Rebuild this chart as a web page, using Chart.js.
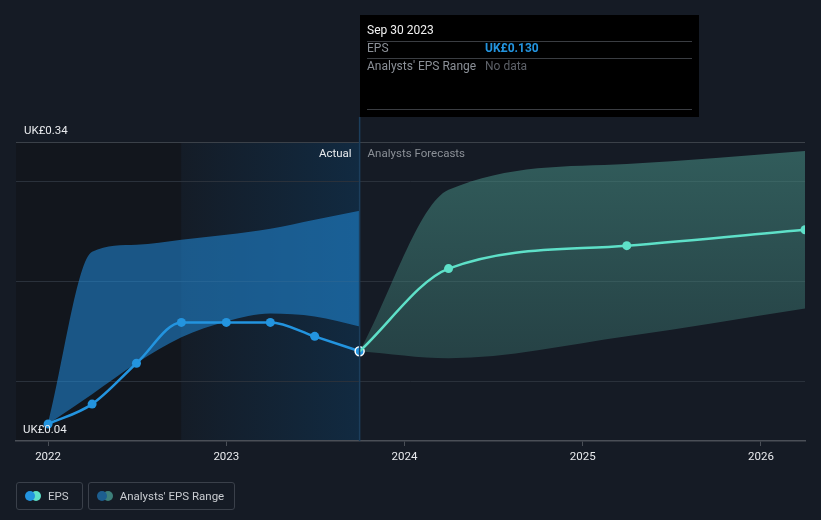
<!DOCTYPE html>
<html>
<head>
<meta charset="utf-8">
<script src="https://cdn.jsdelivr.net/npm/chart.js@4"></script>
<style>
  body { margin: 0; background: #151b25; font-family: Roboto, sans-serif; }
  #wrap { position: relative; width: 821px; height: 520px; }
  .legend { position: absolute; top: 482px; left: 16px; display: flex; gap: 5px; }
  .legend div { height: 26px; border: 1px solid #3a404a; border-radius: 3px; color: #c9ccd1;
    font-size: 11.5px; display: flex; align-items: center; padding: 0 10px 0 8px; }
  .legend div:first-child { padding-right: 13px; }
  .dots { position: relative; width: 16px; height: 10px; margin-right: 7px; }
  .dots span { position: absolute; top: 0; width: 10px; height: 10px; border-radius: 50%; }
</style>
</head>
<body>
<div id="wrap">
  <canvas id="c" width="821" height="520"></canvas>
  <div class="legend">
    <div><span class="dots"><span style="left:6px;background:#5ee0c8"></span><span style="left:0;background:#2394df"></span></span>EPS</div>
    <div><span class="dots"><span style="left:6px;background:#3d7f7a"></span><span style="left:0;background:#1d5e8f"></span></span>Analysts' EPS Range</div>
  </div>
</div>
<script>
// dates as decimal years
const actualDates = [2022.0, 2022.247, 2022.496, 2022.748, 2023.0, 2023.247, 2023.496, 2023.748];
const actualEps = [0.057, 0.077, 0.118, 0.159, 0.159, 0.159, 0.145, 0.130];
const actualRangeHigh = [0.057, 0.230, 0.237, 0.242, 0.247, 0.253, 0.262, 0.271];
const actualRangeLow = [0.057, 0.087, 0.118, 0.144, 0.160, 0.168, 0.165, 0.155];

const forecastDates = [2023.748, 2024.247, 2025.247, 2026.247];
const forecastEps = [0.130, 0.213, 0.236, 0.252];
const forecastHigh = [0.130, 0.292, 0.318, 0.331];
const forecastLow = [0.130, 0.123, 0.145, 0.173];

const yearTicks = [2022, 2023, 2024, 2025, 2026];
const gridValues = [0.04, 0.1, 0.2, 0.3, 0.34];
const lastActual = 2023.748;
const pastYearStart = 2022.748;

const pts = (xs, ys) => xs.map((x, i) => ({ x: x, y: ys[i] }));

const bgPlugin = {
  id: 'bg',
  beforeDraw(chart) {
    const { ctx, chartArea: a, scales: { x } } = chart;
    ctx.save();
    ctx.fillStyle = '#151b25';
    ctx.fillRect(0, 0, chart.width, chart.height);
    const x1 = x.getPixelForValue(pastYearStart);
    const x2 = x.getPixelForValue(lastActual);
    ctx.fillStyle = '#12161d';
    ctx.fillRect(a.left, a.top, x1 - a.left, a.bottom - a.top);
    const g = ctx.createLinearGradient(x1, 0, x2, 0);
    g.addColorStop(0, '#141c27');
    g.addColorStop(1, '#112a41');
    ctx.fillStyle = g;
    ctx.fillRect(x1, a.top, x2 - x1, a.bottom - a.top);
    ctx.restore();
  },
  afterDraw(chart) {
    const { ctx, chartArea: a, scales: { x, y } } = chart;
    const xl = x.getPixelForValue(lastActual);
    ctx.save();
    // hover line
    ctx.strokeStyle = '#1c3e5c';
    ctx.lineWidth = 1.5;
    ctx.beginPath();
    ctx.moveTo(xl, 117);
    ctx.lineTo(xl, a.bottom);
    ctx.stroke();

    // y labels
    ctx.font = '11.5px Roboto';
    ctx.fillStyle = '#e8eaed';
    ctx.textBaseline = 'middle';
    ctx.fillText('UK£0.34', 24, y.getPixelForValue(0.34) - 11);
    ctx.fillText('UK£0.04', 23, y.getPixelForValue(0.04) - 11);

    // section labels
    ctx.font = '11.5px Roboto';
    ctx.textAlign = 'right';
    ctx.fillStyle = '#e8eaed';
    ctx.fillText('Actual', xl - 8, 154);
    ctx.textAlign = 'left';
    ctx.fillStyle = '#8b9097';
    ctx.fillText('Analysts Forecasts', xl + 8, 154);

    // tooltip box
    ctx.fillStyle = '#000000';
    ctx.fillRect(360, 15, 339, 102);
    ctx.strokeStyle = '#3a3d42';
    ctx.lineWidth = 1;
    [41.5, 58.5, 109.5].forEach(ly => {
      ctx.beginPath();
      ctx.moveTo(367, ly);
      ctx.lineTo(692, ly);
      ctx.stroke();
    });
    ctx.font = '12px Roboto';
    ctx.fillStyle = '#f2f2f2';
    ctx.fillText('Sep 30 2023', 367, 31);
    ctx.fillStyle = '#8b9097';
    ctx.fillText('EPS', 367, 49);
    ctx.fillText("Analysts' EPS Range", 367, 67);
    ctx.font = 'bold 12px Roboto';
    ctx.fillStyle = '#2394df';
    ctx.fillText('UK£0.130', 485, 49);
    ctx.font = '12px Roboto';
    ctx.fillStyle = '#5d6168';
    ctx.fillText('No data', 485, 67);
    ctx.restore();
  }
};

const tealFill = (context) => {
  const a = context.chart.chartArea;
  if (!a) return 'rgba(72,145,135,0.4)';
  const g = context.chart.ctx.createLinearGradient(0, a.top, 0, a.bottom);
  g.addColorStop(0, 'rgba(72,145,135,0.56)');
  g.addColorStop(1, 'rgba(72,145,135,0.24)');
  return g;
};

new Chart(document.getElementById('c'), {
  type: 'line',
  data: {
    datasets: [
      { data: pts(actualDates, actualRangeHigh), fill: '+1', backgroundColor: 'rgba(33,140,220,0.55)',
        borderWidth: 0, pointRadius: 0, cubicInterpolationMode: 'monotone' },
      { data: pts(actualDates, actualRangeLow), fill: false, borderWidth: 0, pointRadius: 0,
        cubicInterpolationMode: 'monotone' },
      { data: pts(forecastDates, forecastHigh), fill: '+1', backgroundColor: tealFill,
        borderWidth: 0, pointRadius: 0, cubicInterpolationMode: 'monotone' },
      { data: pts(forecastDates, forecastLow), fill: false, borderWidth: 0, pointRadius: 0,
        cubicInterpolationMode: 'monotone' },
      { data: pts(forecastDates, forecastEps), borderColor: '#5ee0c8', backgroundColor: '#5ee0c8',
        borderWidth: 2.5, pointRadius: c => c.dataIndex === 0 ? 0 : 4.5, pointBorderWidth: 0,
        cubicInterpolationMode: 'monotone', fill: false },
      { data: pts(actualDates, actualEps), borderColor: '#2394df', backgroundColor: '#2394df',
        borderWidth: 2.5, pointRadius: c => c.dataIndex === actualDates.length - 1 ? 4.5 : 4.5,
        pointBorderWidth: c => c.dataIndex === actualDates.length - 1 ? 1.5 : 0,
        pointBorderColor: c => c.dataIndex === actualDates.length - 1 ? '#ffffff' : '#2394df',
        cubicInterpolationMode: 'monotone', fill: false }
    ]
  },
  options: {
    responsive: false,
    animation: false,
    layout: { padding: { left: 16, right: 16, top: 142, bottom: 49 } },
    plugins: { legend: { display: false }, tooltip: { enabled: false },
      filler: { drawTime: 'beforeDatasetsDraw' } },
    scales: {
      x: {
        type: 'linear',
        min: 2021.82,
        max: 2026.247,
        afterBuildTicks: s => { s.ticks = yearTicks.map(v => ({ value: v })); },
        afterFit: s => { s.height = 30; },
        ticks: { color: '#e8eaed', font: { family: 'Roboto', size: 11.5 }, padding: 4,
          callback: v => String(v), maxRotation: 0 },
        grid: { drawOnChartArea: false, drawTicks: true, tickLength: 5, color: '#4a4f57' },
        border: { color: '#4a4f57', width: 1.5 }
      },
      y: {
        min: 0.04,
        max: 0.34,
        afterBuildTicks: s => { s.ticks = gridValues.map(v => ({ value: v })); },
        afterFit: s => { s.width = 0; },
        ticks: { display: false },
        grid: { drawTicks: false, lineWidth: 1,
          color: c => c.tick && c.tick.value === 0.34 ? '#3b4149' : (c.tick && c.tick.value === 0.04 ? 'rgba(0,0,0,0)' : '#2a313b') },
        border: { display: false }
      }
    }
  },
  plugins: [bgPlugin]
});
</script>
</body>
</html>
